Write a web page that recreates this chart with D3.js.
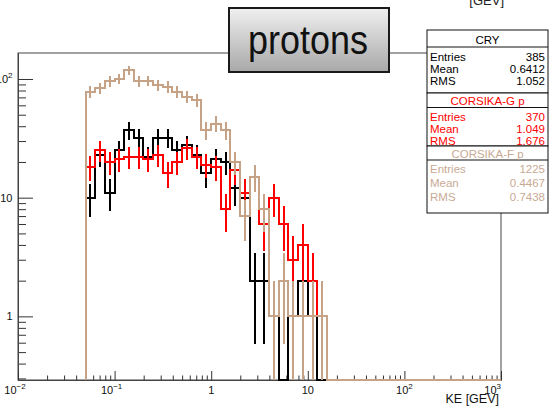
<!DOCTYPE html>
<html><head><meta charset="utf-8">
<script src="https://cdn.jsdelivr.net/npm/d3@7"></script>
<style>
body{margin:0;background:#fff}
svg{display:block}
text{font-family:"Liberation Sans",Arial,Helvetica,sans-serif}
</style>
</head><body>
<svg id="c" width="549" height="409"></svg>
<script>
// ---- data ----
const binLowEdgeGeV = 0.05;      // low edge of the first filled bin
const binsPerDecade = 10;        // log-spaced bins, 0.1 decade wide
const cry      = [10,23,11,25,37,32,22,32,32,25,28,23,16,21,20,12,10,2,2,1,0,1,2,1,0];
const corsikaG = [18,25,20,21,22,22,21,23,16,20,26,22,19,18,8,17,11,15,6,10,6,3,4,2,1];
const corsikaF = [78,84,96,100,119,96,97,89,86,78,71,66,37,42,37,20,7,15,8,1,2,1,1,1,1];
const seriesNames = ["CRY","CORSIKA-G p","CORSIKA-F p"];
const seriesColors = ["#000000","#ff0000","#c6a386"];
const statEntries = ["385","370","1225"];
const statMeans = ["0.6412","1.049","0.4467"];
const statRMS = ["1.052","1.676","0.7438"];
const xTickValues = [1e-2,1e-1,1,10,1e2,1e3];
const xTickLabels = [["10","\u22122"],["10","\u22121"],["1",""],["10",""],["10","2"],["10","3"]];
const yTickValues = [1,10,100];
const yTickLabels = [["1",""],["10",""],["10","2"]];
const xTitle = "KE [GEV]";
const title = "protons";

// ---- layout ----
const svg = d3.select("#c");
const X0 = 18, X1 = 501, Y0 = 53, Y1 = 380;
const x = d3.scaleLog().domain([1e-2, 1e3]).range([X0, X1]);
const y = d3.scaleLog().domain([0.291, 165.6]).range([Y1, Y0]);
const edge = k => binLowEdgeGeV * Math.pow(10, k / binsPerDecade);

svg.append("defs").append("clipPath").attr("id","frame")
  .append("rect").attr("x",X0).attr("y",Y0).attr("width",X1-X0).attr("height",Y1-Y0+1);

// partial text at very top (cropped from slide)
svg.append("text").attr("x",504).attr("y",5).attr("text-anchor","end")
  .attr("font-size",13).attr("fill","#222").text("[GEV]");

// frame
svg.append("rect").attr("x",X0).attr("y",Y0).attr("width",X1-X0).attr("height",Y1-Y0)
  .attr("fill","none").attr("stroke","#444").attr("stroke-width",1);

// ---- axes ----
function minorTicks(lo, hi) {
  const out = [];
  for (let e = Math.floor(Math.log10(lo)) ; e <= Math.ceil(Math.log10(hi)); e++) {
    for (let m = 2; m <= 9; m++) { const v = m * Math.pow(10, e); if (v > lo && v < hi) out.push(v); }
  }
  return out;
}
const yMinor = d3.axisLeft(y).tickValues(minorTicks(0.291,165.6)).tickSizeInner(-8).tickSizeOuter(0).tickFormat("");
const yMajor = d3.axisLeft(y).tickValues(yTickValues).tickSizeInner(-15).tickSizeOuter(0).tickFormat("");
const gy1 = svg.append("g").attr("transform",`translate(${X0},0)`).call(yMinor);
const gy2 = svg.append("g").attr("transform",`translate(${X0},0)`).call(yMajor);
const xMinor = d3.axisBottom(x).tickValues(minorTicks(1e-2,1e3)).tickSizeInner(-4.5).tickSizeOuter(0).tickFormat("");
const xMajor = d3.axisBottom(x).tickValues(xTickValues).tickSizeInner(-9).tickSizeOuter(0).tickFormat("");
const gx1 = svg.append("g").attr("transform",`translate(0,${Y1})`).call(xMinor);
const gx2 = svg.append("g").attr("transform",`translate(0,${Y1})`).call(xMajor);
[gy1,gy2,gx1,gx2].forEach(g => {
  g.select(".domain").attr("stroke","#444");
  g.selectAll(".tick line").attr("stroke","#333").attr("stroke-width",1);
});

function supLabel(sel, base, sup) {
  sel.append("tspan").text(base);
  if (sup) sel.append("tspan").attr("dy",-5).attr("font-size",8).text(sup);
}
xTickValues.forEach((v,i) => {
  const last = i === xTickValues.length - 1;
  const t = svg.append("text").attr("x", last ? x(v) : x(v) - (xTickLabels[i][1].length > 1 ? 3 : 0))
    .attr("y", 394).attr("text-anchor", last ? "end" : "middle")
    .attr("font-size",11).attr("fill","#111");
  supLabel(t, xTickLabels[i][0], xTickLabels[i][1]);
});
yTickValues.forEach((v,i) => {
  const t = svg.append("text").attr("x", 12.5).attr("y", y(v)+4).attr("text-anchor","end")
    .attr("font-size",11).attr("fill","#111");
  supLabel(t, yTickLabels[i][0], yTickLabels[i][1]);
});
svg.append("text").attr("x",499).attr("y",403).attr("text-anchor","end")
  .attr("font-size",12.5).attr("fill","#111").text(xTitle);

// ---- histograms ----
const plot = svg.append("g").attr("clip-path","url(#frame)");
function yv(v){ return v > 0 ? Math.min(y(v), Y1) : Y1; }
function drawHist(vals, color) {
  const pts = [[x(edge(0)), Y1]];
  vals.forEach((v,k) => { pts.push([x(edge(k)), yv(v)]); pts.push([x(edge(k+1)), yv(v)]); });
  pts.push([x(edge(vals.length)), Y1]); pts.push([x(1e3), Y1]);
  plot.append("path").attr("d", d3.line()(pts)).attr("fill","none")
    .attr("stroke",color).attr("stroke-width",2).attr("shape-rendering","crispEdges");
  vals.forEach((v,k) => {
    if (v <= 0) return;
    const e = Math.sqrt(v);
    const xc = x(Math.sqrt(edge(k)*edge(k+1)));
    plot.append("line").attr("x1",xc).attr("x2",xc)
      .attr("y1", yv(v+e)).attr("y2", yv(v-e))
      .attr("stroke",color).attr("stroke-width",2).attr("shape-rendering","crispEdges");
  });
}
drawHist(cry, seriesColors[0]);
drawHist(corsikaG, seriesColors[1]);
drawHist(corsikaF, seriesColors[2]);

// ---- title box ----
const grad = svg.select("defs").append("linearGradient").attr("id","tg")
  .attr("x1",0).attr("y1",0).attr("x2",0).attr("y2",1);
grad.append("stop").attr("offset","0%").attr("stop-color","#f0f0f0");
grad.append("stop").attr("offset","100%").attr("stop-color","#a8a8a8");
svg.append("rect").attr("x",229).attr("y",8).attr("width",160).attr("height",64)
  .attr("fill","url(#tg)").attr("stroke","#1a1a1a").attr("stroke-width",2);
svg.append("text").attr("x",308).attr("y",54).attr("text-anchor","middle")
  .attr("font-family","Lato, 'Open Sans', sans-serif").attr("font-size",40)
  .attr("textLength",120).attr("lengthAdjust","spacingAndGlyphs")
  .attr("fill","#111").text(title);

// ---- stats boxes ----
const SX0 = 427, SX1 = 548;
const boxes = [
  {top:30, bot:93, tc:40, sep:47, rows:[57,69,81]},
  {top:93, bot:146, tc:101, sep:107.5, rows:[117,129,141]},
  {top:146, bot:213, tc:153.5, sep:160, rows:[169,183,197]}
];
boxes.forEach((b,i) => {
  const c = i === 2 ? "#c8aa94" : seriesColors[i];
  svg.append("rect").attr("x",SX0).attr("y",b.top).attr("width",SX1-SX0).attr("height",b.bot-b.top)
    .attr("fill","#fff").attr("stroke","#111").attr("stroke-width",1);
  svg.append("line").attr("x1",SX0).attr("x2",SX1).attr("y1",b.sep).attr("y2",b.sep)
    .attr("stroke","#111").attr("stroke-width",1);
  svg.append("text").attr("x",(SX0+SX1)/2).attr("y",b.tc+4).attr("text-anchor","middle")
    .attr("font-size",11.5).attr("fill",c).text(seriesNames[i]);
  const labels = ["Entries","Mean","RMS"];
  const vals = [statEntries[i], statMeans[i], statRMS[i]];
  labels.forEach((l,j) => {
    svg.append("text").attr("x",430).attr("y",b.rows[j]+4).attr("font-size",11.5).attr("fill",c).text(l);
    svg.append("text").attr("x",545).attr("y",b.rows[j]+4).attr("text-anchor","end")
      .attr("font-size",11.5).attr("fill",c).text(vals[j]);
  });
});
</script>
</body></html>
